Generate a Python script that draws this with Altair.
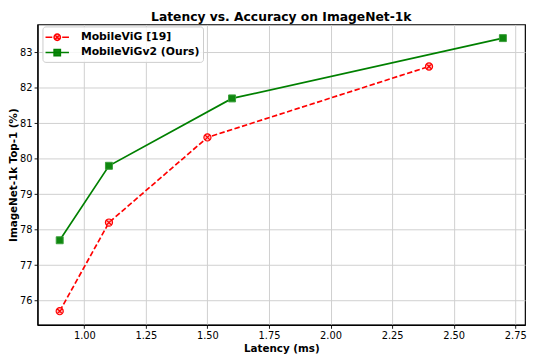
import altair as alt
import pandas as pd

# ---- data ----
series_names = ["MobileViG [19]", "MobileViGv2 (Ours)"]
latency_v1 = [0.9, 1.1, 1.5, 2.4]
top1_v1 = [75.7, 78.2, 80.6, 82.6]
latency_v2 = [0.9, 1.1, 1.6, 2.7]
top1_v2 = [77.7, 79.8, 81.7, 83.4]
x_ticks = [1.0, 1.25, 1.5, 1.75, 2.0, 2.25, 2.5, 2.75]
y_ticks = [76, 77, 78, 79, 80, 81, 82, 83]

df1 = pd.DataFrame({"latency": latency_v1, "top1": top1_v1, "model": series_names[0]})
df2 = pd.DataFrame({"latency": latency_v2, "top1": top1_v2, "model": series_names[1]})
df = pd.concat([df1, df2], ignore_index=True)

RED = "#ff0000"
GREEN = "#008000"

circle_x = ("M1,0A1,1 0 1,1 -1,0A1,1 0 1,1 1,0Z "
            "M-0.7,-0.7L0.7,0.7M-0.7,0.7L0.7,-0.7")
legend_red = ("M-1.7,0L-0.72,0M0.72,0L1.7,0 "
              "M0.46,0A0.46,0.46 0 1,1 -0.46,0A0.46,0.46 0 1,1 0.46,0Z "
              "M-0.32,-0.32L0.32,0.32M-0.32,0.32L0.32,-0.32")
legend_green = "M-1.7,0L1.7,0M-0.46,-0.46L0.46,-0.46L0.46,0.46L-0.46,0.46Z"

x = alt.X("latency:Q",
          scale=alt.Scale(domain=[0.81, 2.79], nice=False, zero=False),
          axis=alt.Axis(values=x_ticks, format=".2f", title="Latency (ms)"))
y = alt.Y("top1:Q",
          scale=alt.Scale(domain=[75.315, 83.785], nice=False, zero=False),
          axis=alt.Axis(values=y_ticks, format="d", title="ImageNet-1k Top-1 (%)"))

line1 = alt.Chart(df1).mark_line(color=RED, strokeWidth=1.7, strokeDash=[5.5, 2.5]).encode(x=x, y=y)
pts1 = alt.Chart(df1).mark_point(shape=circle_x, size=52, filled=True, fill="#ffb8b8",
                                 stroke=RED, strokeWidth=1.2, opacity=1).encode(x=x, y=y)
line2 = alt.Chart(df2).mark_line(color=GREEN, strokeWidth=1.7).encode(x=x, y=y)
pts2 = alt.Chart(df2).mark_point(shape="square", size=50, filled=True, fill="#0f870f",
                                 stroke="#3a9e3a", strokeWidth=1.0, opacity=1).encode(x=x, y=y)

leg_layer = alt.Chart(df).mark_point(opacity=0, filled=True).encode(
    x=x, y=y,
    fill=alt.Fill("model:N", scale=alt.Scale(domain=series_names, range=["#ffb8b8", "#0f870f"]),
                  legend=alt.Legend(title=None)),
    stroke=alt.Stroke("model:N", scale=alt.Scale(domain=series_names, range=[RED, GREEN]),
                      legend=alt.Legend(title=None)),
    shape=alt.Shape("model:N", scale=alt.Scale(domain=series_names, range=[legend_red, legend_green]),
                    legend=alt.Legend(title=None)),
)

chart = alt.layer(line1, line2, pts1, pts2, leg_layer).properties(
    width=495, height=305,
    autosize=alt.AutoSizeParams(type="none"),
    padding={"left": 30, "top": 14, "right": 3, "bottom": 35},
    title=alt.TitleParams("Latency vs. Accuracy on ImageNet-1k", font="DejaVu Sans",
                          fontSize=12.5, fontWeight="bold", color="black", offset=1,
                          anchor="middle"),
).configure_view(stroke="black", strokeWidth=1.2).configure_axis(
    labelFont="DejaVu Sans", labelFontSize=10, labelColor="black", labelPadding=2,
    titleFont="DejaVu Sans", titleFontSize=10.5, titleFontWeight="bold", titleColor="black",
    domainColor="black", domainWidth=1.2, tickColor="black", tickSize=3.5, tickWidth=0.9,
    gridColor="#cfcfcf", gridWidth=1,
).configure_axisX(titlePadding=4).configure_axisY(
    titleX=-29.5, titleBaseline="top"
).configure_legend(
    orient="none", legendX=5, legendY=2, labelFont="DejaVu Sans", labelFontWeight="bold",
    labelFontSize=11, labelColor="black", symbolSize=196, symbolStrokeWidth=1.5,
    symbolOpacity=1, symbolOffset=4, labelOffset=16, strokeColor="#cccccc",
    fillColor="rgba(255,255,255,0.85)", cornerRadius=3, padding=3, rowPadding=0.5,
)

chart.save("out.html", embed_options={"renderer": "svg", "actions": False})
